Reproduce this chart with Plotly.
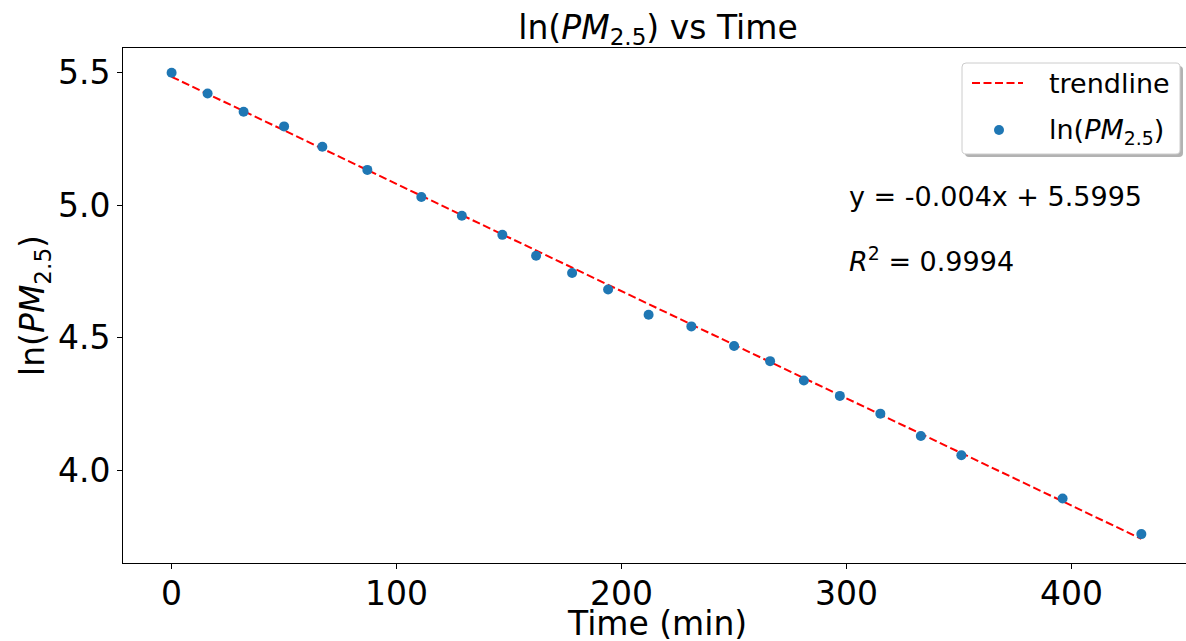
import plotly.graph_objects as go

# Data
time_min = [0, 16, 32, 50, 67, 87, 111, 129, 147, 162, 178, 194, 212, 231,
            250, 266, 281, 297, 315, 333, 351, 396, 431]
ln_pm25 = [5.499, 5.421, 5.352, 5.297, 5.220, 5.133, 5.031, 4.960, 4.888,
           4.809, 4.744, 4.682, 4.587, 4.543, 4.469, 4.412, 4.339, 4.281,
           4.214, 4.130, 4.057, 3.894, 3.760]
trend_x = [0, 431]
trend_y = [5.484, 3.742]
x_ticks = [0, 100, 200, 300, 400]
y_ticks = [4.0, 4.5, 5.0, 5.5]
eq_text = "y = -0.004x + 5.5995"
r2_text = "<i>R</i><sup>2</sup> = 0.9994"
series_names = ["trendline", "ln(<i>PM</i><sub>2.5</sub>)"]
x_title = "Time (min)"
y_title = "ln(<i>PM</i><sub>2.5</sub>)"
chart_title = "ln(<i>PM</i><sub>2.5</sub>) vs Time"

FONT = "DejaVu Sans"
W, H = 1186, 641
ML, MR, MT, MB = 123, 0, 48, 78
RED = "red"
BLUE = "#1f77b4"
DASH = "8px,3.5px"

fig = go.Figure()
fig.add_trace(go.Scatter(
    x=trend_x, y=trend_y, mode="lines", name=series_names[0],
    line=dict(color=RED, width=2, dash=DASH), showlegend=False))
fig.add_trace(go.Scatter(
    x=time_min, y=ln_pm25, mode="markers", name=series_names[1],
    marker=dict(color=BLUE, size=10, line=dict(width=0)), showlegend=False))

pw = W - ML - MR
ph = H - MT - MB


def px_x(p):
    return (p - ML) / pw


def px_y(p):
    return (H - MB - p) / ph


def rounded_rect(x0, y0, x1, y1, r):
    pts = [
        ("M", [(x0 + r, y0)]),
        ("L", [(x1 - r, y0)]),
        ("Q", [(x1, y0), (x1, y0 + r)]),
        ("L", [(x1, y1 - r)]),
        ("Q", [(x1, y1), (x1 - r, y1)]),
        ("L", [(x0 + r, y1)]),
        ("Q", [(x0, y1), (x0, y1 - r)]),
        ("L", [(x0, y0 + r)]),
        ("Q", [(x0, y0), (x0 + r, y0)]),
    ]
    out = []
    for cmd, ps in pts:
        out.append(cmd + " ".join(f"{px_x(a):.5f},{px_y(b):.5f}" for a, b in ps))
    return " ".join(out) + " Z"


# Legend (matplotlib style: rounded frame with shadow)
LX0, LY0, LX1, LY1 = 962, 63, 1180, 154
fig.add_shape(type="path", xref="paper", yref="paper", layer="above",
              path=rounded_rect(LX0 + 3, LY0 + 3, LX1 + 3, LY1 + 3, 4),
              fillcolor="rgba(0,0,0,0.3)", line=dict(width=0))
fig.add_shape(type="path", xref="paper", yref="paper", layer="above",
              path=rounded_rect(LX0, LY0, LX1, LY1, 4),
              fillcolor="white", line=dict(color="#cccccc", width=1))
fig.add_shape(type="line", xref="paper", yref="paper", layer="above",
              x0=px_x(972), x1=px_x(1023), y0=px_y(83), y1=px_y(83),
              line=dict(color=RED, width=2, dash=DASH))
fig.add_shape(type="circle", xref="paper", yref="paper", layer="above",
              x0=px_x(994), x1=px_x(1004), y0=px_y(135), y1=px_y(125),
              fillcolor=BLUE, line=dict(width=0))
fig.add_annotation(x=px_x(1047), y=px_y(84), xref="paper", yref="paper",
                   text=series_names[0], showarrow=False,
                   xanchor="left", yanchor="middle",
                   font=dict(family=FONT, size=27, color="black"))
fig.add_annotation(x=px_x(1047), y=px_y(131), xref="paper", yref="paper",
                   text=series_names[1], showarrow=False,
                   xanchor="left", yanchor="middle",
                   font=dict(family=FONT, size=27, color="black"))

fig.add_annotation(x=300, y=5.032, xref="x", yref="y", text=eq_text,
                   showarrow=False, xanchor="left", yanchor="middle",
                   font=dict(family=FONT, size=27, color="black"))
fig.add_annotation(x=300, y=4.795, xref="x", yref="y", text=r2_text,
                   showarrow=False, xanchor="left", yanchor="middle",
                   font=dict(family=FONT, size=27, color="black"))

# x-axis title (partly cut by the bottom edge, as in the reference)
fig.add_annotation(x=px_x(657), y=px_y(602), xref="paper", yref="paper",
                   text=x_title, showarrow=False,
                   xanchor="center", yanchor="top",
                   font=dict(family=FONT, size=33, color="black"))

axis_common = dict(
    showgrid=False, zeroline=False, showline=True, linecolor="black",
    linewidth=1, ticks="outside", ticklen=5, tickwidth=1, tickcolor="black",
    tickfont=dict(family=FONT, size=33, color="black"),
)

fig.update_layout(
    width=W, height=H,
    margin=dict(l=ML, r=MR, t=MT, b=MB),
    paper_bgcolor="white", plot_bgcolor="white",
    font=dict(family=FONT, color="black"),
    title=dict(text=chart_title,
               font=dict(family=FONT, size=33, color="black"),
               x=658 / W, xanchor="center", xref="container",
               y=1 - 27 / H, yanchor="middle", yref="container"),
    xaxis=dict(range=[-21.6, (W - ML) / 2.25 - 21.6], tickvals=x_ticks,
               ticktext=[str(v) for v in x_ticks], mirror=True,
               ticklabelstandoff=-4,
               automargin=False, **axis_common),
    yaxis=dict(range=[3.651, 5.5925], tickvals=y_ticks,
               ticktext=[f"{v:.1f}" for v in y_ticks],
               title=dict(text=y_title, standoff=3,
                          font=dict(family=FONT, size=33, color="black")),
               automargin=False, **axis_common),
    showlegend=False,
)

fig.write_html("out.html")
